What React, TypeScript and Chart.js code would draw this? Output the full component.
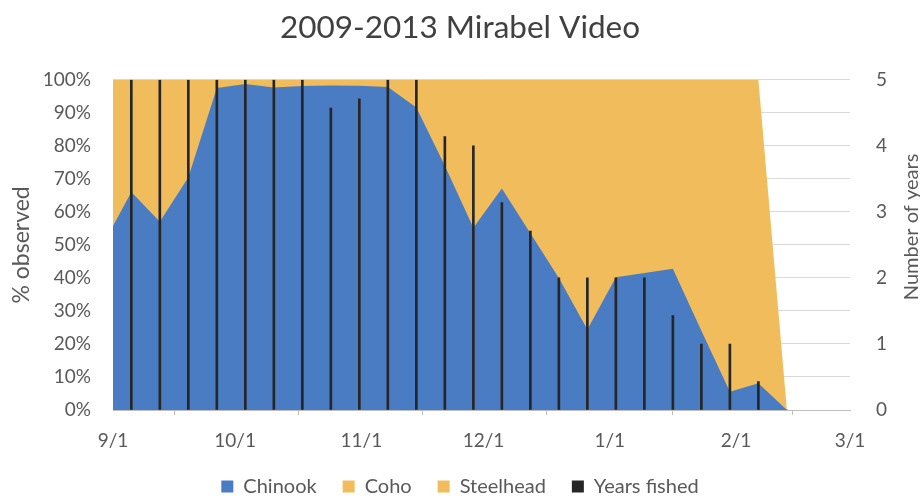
import { useEffect, useRef } from 'react';
import { Chart, registerables } from 'chart.js';

Chart.register(...registerables);

// Weekly observation periods (start date of each week)
const weekStarts = [
  '8/29', '9/5', '9/12', '9/19', '9/26', '10/3', '10/10', '10/17', '10/24',
  '10/31', '11/7', '11/14', '11/21', '11/28', '12/5', '12/12', '12/19',
  '12/26', '1/2', '1/9', '1/16', '1/23', '1/30', '2/6', '2/13',
];

// Share of fish observed per week (%)
const chinook = [
  50, 66, 57, 70.5, 97.5, 98.7, 97.7, 98.1, 98.3, 98.2, 97.8, 91.6, 74,
  55.2, 67.1, 53.5, 40, 24.4, 40.2, 41.5, 42.8, 24, 5.5, 8.1, 0,
];
const coho = [
  46, 31, 40, 27.5, 2, 1, 2, 1.5, 1.3, 1.4, 1.7, 7.4, 24,
  41.8, 29.9, 42.5, 54, 66.6, 47.8, 40.5, 30.2, 30, 19.5, 6.9, 0,
];
const steelhead = [
  4, 3, 3, 2, 0.5, 0.3, 0.3, 0.4, 0.4, 0.4, 0.5, 1, 2,
  3, 3, 4, 6, 9, 12, 18, 27, 46, 75, 85, 0,
];

// Number of years (2009-2013) in which each week was fished
const yearsFished = [
  null, 5, 5, 5, 5, 5, 5, 5, 4.57, 4.71, 5, 5, 4.14,
  4, 3.14, 2.71, 2, 2, 2, 2, 1.43, 1, 1, 0.43, 0,
];

// Month boundaries shown on the date axis
const monthTickLabels = ['9/1', '10/1', '11/1', '12/1', '1/1', '2/1', '3/1'];

const seasonMonths = [8, 9, 10, 11, 12, 1, 2, 3];
const seasonMonthDays = [31, 30, 31, 30, 31, 31, 28, 31];

// Days since 9/1 for an "m/d" date in the Sept-March season
function seasonDay(md: string): number {
  const [m, d] = md.split('/').map(Number);
  const idx = seasonMonths.indexOf(m);
  let days = -seasonMonthDays[0];
  for (let i = 0; i < idx; i++) days += seasonMonthDays[i];
  return days + d - 1;
}

const monthTickDays = monthTickLabels.map(seasonDay);
// each week's value sits in the middle of its start day
const weekX = weekStarts.map((d) => seasonDay(d) + 0.5);

const FONT = 'Lato, "Open Sans", sans-serif';
const TEXT = '#595959';
const BLUE = '#4A7CC4';
const GOLD = '#F1BD5C';
const BAR = '#262626';

const toPoints = (vals: (number | null)[]) =>
  vals.map((y, i) => ({ x: weekX[i], y }));

// right-hand axis title, reading bottom-to-top like the left one
const rightAxisTitle = {
  id: 'rightAxisTitle',
  afterDraw(chart: any) {
    const { ctx, chartArea } = chart;
    ctx.save();
    ctx.font = `20px ${FONT}`;
    ctx.fillStyle = TEXT;
    ctx.textAlign = 'center';
    ctx.textBaseline = 'middle';
    ctx.translate(chart.width - 8, (chartArea.top + chartArea.bottom) / 2 - 18);
    ctx.rotate(-Math.PI / 2);
    ctx.fillText('Number of years', 0, 0);
    ctx.restore();
  },
};

export default function App() {
  const canvasRef = useRef<HTMLCanvasElement | null>(null);

  useEffect(() => {
    document.body.style.margin = '0';
    const canvas = canvasRef.current;
    if (!canvas) return;

    // stacked areas, each filled down to the axis; the upper ones are drawn
    // first so the lower series paint over them
    const areaBase = {
      type: 'line' as const,
      yAxisID: 'y',
      borderWidth: 0,
      borderColor: 'rgba(0,0,0,0)',
      pointRadius: 0,
      pointHoverRadius: 0,
      tension: 0,
      fill: 'origin',
      order: 1,
    };

    const chart = new Chart(canvas, {
      type: 'line',
      data: {
        datasets: [
          { ...areaBase, label: 'Chinook', data: toPoints(chinook), backgroundColor: BLUE },
          { ...areaBase, label: 'Coho', data: toPoints(coho), backgroundColor: GOLD },
          { ...areaBase, label: 'Steelhead', data: toPoints(steelhead), backgroundColor: GOLD },
          {
            type: 'bar',
            label: 'Years fished',
            yAxisID: 'y1',
            data: toPoints(yearsFished) as any,
            backgroundColor: BAR,
            barThickness: 2,
            grouped: false,
            order: 0,
          } as any,
        ],
      },
      options: {
        animation: false,
        responsive: false,
        events: [],
        layout: { padding: { top: 0, bottom: -5.5, left: 0, right: 0 } },
        plugins: {
          title: {
            display: true,
            text: '2009-2013 Mirabel Video',
            color: '#404040',
            font: { family: FONT, size: 31.5, weight: 'normal' },
            padding: { top: 9, bottom: 33 },
          },
          legend: {
            position: 'bottom',
            labels: {
              boxWidth: 12,
              boxHeight: 12,
              padding: 26,
              color: TEXT,
              font: { family: FONT, size: 20 },
              sort: (a: any, b: any) => a.datasetIndex - b.datasetIndex,
            },
          },
          tooltip: { enabled: false },
        },
        scales: {
          x: {
            type: 'linear',
            min: monthTickDays[0],
            max: monthTickDays[monthTickDays.length - 1],
            offset: false,
            afterBuildTicks: (s: any) => {
              s.ticks = monthTickDays.map((value) => ({ value }));
            },
            afterFit: (s: any) => {
              s.height = 40.5;
            },
            ticks: {
              autoSkip: false,
              maxRotation: 0,
              padding: 14,
              color: TEXT,
              font: { family: FONT, size: 19 },
              callback: (_v: any, i: number) => monthTickLabels[i],
            },
            grid: { drawOnChartArea: false, tickLength: 5, color: '#BFBFBF' },
            border: { color: '#BFBFBF' },
          },
          y: {
            position: 'left',
            stacked: true,
            min: 0,
            max: 100,
            afterFit: (s: any) => {
              s.width = 113;
            },
            ticks: {
              stepSize: 10,
              padding: 22,
              color: TEXT,
              font: { family: FONT, size: 19 },
              callback: (v: any) => `${v}%`,
            },
            grid: { color: '#D9D9D9', drawTicks: false },
            border: { display: false },
            title: {
              display: true,
              text: '% observed',
              color: TEXT,
              font: { family: FONT, size: 23 },
              padding: { top: 8, bottom: 0 },
            },
          },
          y1: {
            position: 'right',
            min: 0,
            max: 5,
            afterFit: (s: any) => {
              s.width = 70;
            },
            ticks: {
              stepSize: 1,
              padding: 26,
              color: TEXT,
              font: { family: FONT, size: 19 },
            },
            grid: { drawOnChartArea: false, drawTicks: false },
            border: { display: false },
          },
        },
      } as any,
      plugins: [rightAxisTitle],
    });

    return () => chart.destroy();
  }, []);

  return (
    <div style={{ width: 920, height: 501 }}>
      <canvas ref={canvasRef} width={920} height={501} style={{ display: 'block' }} />
    </div>
  );
}
